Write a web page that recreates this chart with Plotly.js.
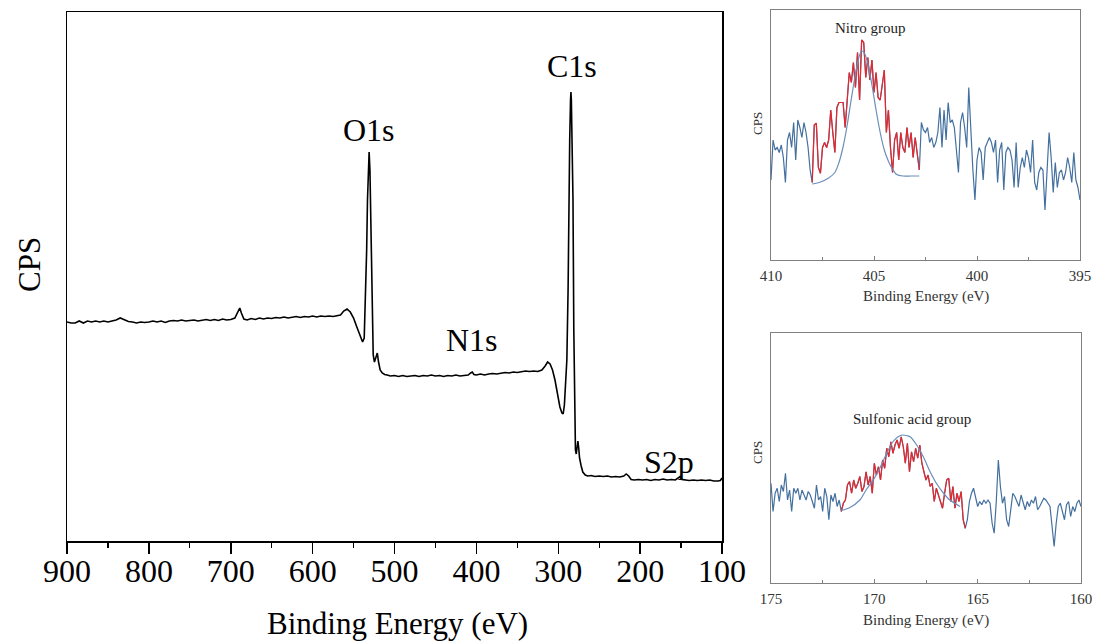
<!DOCTYPE html>
<html>
<head>
<meta charset="utf-8">
<script src="https://cdn.plot.ly/plotly-3.0.1.min.js"></script>
<style>
html,body{margin:0;padding:0;background:#fff;}
#chart{width:1095px;height:641px;}
</style>
</head>
<body>
<div id="chart"></div>
<script>
// ---------- Survey spectrum (binding energy, eV / intensity, kCPS) ----------
const surveyEnergy = [
 900,895,890,885,880,875,870,865,860,855,850,845,840,835,830,825,820,815,810,805,
 800,795,790,785,780,775,770,765,760,755,750,745,740,735,730,725,720,715,710,705,
 700,695,692,689,687,684,680,675,670,665,660,655,650,645,640,635,630,625,620,615,
 610,605,600,595,590,585,580,575,570,566,562,558,554,550,546,542,539,537,535.5,534,
 533,532,531,530,529,528,527,526,524.5,522.5,521,519.5,517.5,515,512,509,505,500,495,490,
 485,480,475,470,465,460,455,450,445,440,435,430,425,420,415,410,407,405,403,400,
 395,390,385,380,375,370,365,360,355,350,345,340,335,330,325,320,316,313,310,307,
 304,301,298,295.5,294,292.5,291,289.5,288,287,286,285,284.5,284,283,282,281,280,279,278,
 277,276,275,274,272,270,267,264,260,255,250,245,240,235,230,225,220,217,214,211,
 207,202,197,192,187,182,177,172,167,162,157,153,151,149,145,140,135,130,125,120,
 115,110,105,102,100
];
const surveyCounts = [
 22.1,22.0,22.0,22.2,22.0,22.2,22.1,22.2,22.1,22.2,22.1,22.2,22.3,22.5,22.35,22.15,22.1,22.0,22.1,22.05,
 22.1,22.2,22.1,22.2,22.05,22.2,22.25,22.2,22.3,22.2,22.25,22.3,22.2,22.3,22.35,22.25,22.35,22.25,22.4,22.3,
 22.35,22.5,23.0,23.5,23.0,22.4,22.3,22.45,22.35,22.5,22.4,22.5,22.45,22.55,22.5,22.6,22.5,22.6,22.65,22.55,
 22.65,22.6,22.7,22.6,22.7,22.65,22.7,22.65,22.7,22.8,23.2,23.4,23.1,22.5,21.6,20.7,20.1,20.5,24.3,29.3,
 34.3,37.8,39.1,37.3,32.3,26.8,22.3,18.8,18.1,18.7,19.0,18.1,17.3,17.0,16.85,16.8,16.7,16.75,16.65,16.75,
 16.65,16.7,16.75,16.65,16.75,16.7,16.8,16.7,16.75,16.65,16.75,16.7,16.8,16.7,16.75,16.8,17.0,17.1,16.85,16.8,
 16.9,16.8,16.9,16.95,16.9,17.0,17.05,17.0,17.1,17.05,17.15,17.2,17.15,17.2,17.15,17.3,17.7,18.1,17.9,17.3,
 16.3,15.0,13.6,13.0,12.9,13.8,15.8,18.3,25.3,35.0,40.3,44.3,45.1,44.3,40.3,34.3,21.3,12.3,9.3,8.9,
 9.7,10.2,9.5,8.5,7.7,7.1,6.8,6.7,6.75,6.65,6.7,6.65,6.7,6.6,6.65,6.6,6.7,6.9,6.7,6.35,
 6.3,6.35,6.3,6.35,6.25,6.35,6.3,6.4,6.3,6.35,6.3,6.5,6.65,6.35,6.3,6.25,6.3,6.25,6.3,6.25,
 6.3,6.2,6.2,6.25,6.5
];
const surveyTicks = [900,800,700,600,500,400,300,200,100];
const peakNames = ["O1s","C1s","N1s","S2p"];
const peakLabelX = [531,283.5,405,164.7];
const peakLabelY = [41.3,47.7,20.3,8.1];

// ---------- N1s high-resolution (410 -> 395 eV, step 0.1) ----------
const nitroStart = 410, nitroStep = 0.1;
const nitroCounts = [
 32,48,44,45,43,46,41,31,48,51,45,55,40,56,53,49,55,51,45,36,31,
 54,54.7,37,34.7,45,47,45,48,60,51,43,61,63,63,63,53,64,75,71,79,
 69,83,64,88,87,73,81,72,80,67,75,65,64,71,76,51,60,45,35,48,
 51,40,51,45,43,53,45,51,41,49,43,36,
 55,52,51,53,47,49,45,47,51,61,45,60,48,63,55,56,53,45,35,55,
 59,53,45,69,51,36,24,40,45,43,32,45,47,49,47,43,48,31,44,47,
 28,43,45,44,40,29,47,29,37,41,37,44,41,35,48,31,28,35,37,36,
 20,35,51,41,27,39,29,35,36,32,35,41,37,31,43,32,29,24
];
const nitroPeakRange = [408.0, 402.8];
const nitroFitEnergy = [408.0,407.6,407.2,406.9,406.7,406.5,406.3,406.1,405.9,405.75,405.6,405.45,405.3,405.1,404.9,404.7,404.5,404.3,404.1,403.9,403.6,403.2,402.8];
const nitroFitCounts = [30.4,31.2,32.8,35.0,39.0,45.3,54.0,64.5,74.5,80.5,83.7,82.5,78.5,70.0,60.0,51.0,44.0,39.5,36.3,34.2,33.6,33.6,33.6];
const nitroTicks = [410,405,400,395];

// ---------- S2p high-resolution (175 -> 160 eV, step 0.1) ----------
const sulfoStart = 175, sulfoStep = 0.1;
const sulfoCounts = [
 39.9,28.6,35.9,37.9,32.6,39.2,36.6,43.9,33.2,37.2,28.6,37.9,35.9,37.9,33.2,37.2,35.2,33.2,36.6,35.2,
 32.6,29.9,39.2,33.2,34.6,28.6,37.9,34.6,25.3,35.2,32.6,35.9,30.6,33.2,28.6,
 31.9,33.2,39.2,40.6,35.9,41.2,37.9,39.9,42.6,36.6,38.6,44.5,39.2,42.6,35.9,47.9,43.2,46.5,41.2,49.2,
 45.9,53.9,50.5,56.5,51.9,55.2,57.2,53.9,58.5,54.5,47.9,55.9,44.5,52.5,48.5,53.9,49.9,55.2,47.9,44.5,
 41.2,43.2,38.6,39.9,32.6,37.9,35.2,32.6,29.9,35.9,41.2,41.9,32.6,38.6,29.9,35.9,32.6,36.6,25.3,21.9,
 25.3,32.6,35.9,37.9,34.6,30.6,32.6,31.3,33.2,31.9,33.2,31.9,23.9,19.9,32.6,49.2,38.6,31.9,34.6,25.3,
 22.6,30.6,35.9,34.6,32.6,30.6,35.2,32.6,29.3,32.6,30.6,33.2,31.9,34.6,29.3,30.6,32.6,33.9,33.2,31.9,
 30.6,22.6,14.6,23.9,30.6,31.9,28.6,25.3,31.3,32.6,26.6,30.6,28.6,31.9,33.2,30.6
];
const sulfoPeakRange = [171.6, 165.6];
const sulfoFitEnergy = [171.6,171.2,170.7,170.4,170.05,169.7,169.4,169.1,168.85,168.63,168.4,168.27,167.95,167.63,167.3,167.0,166.65,166.35,165.85];
const sulfoFitCounts = [29.0,30.1,33.2,37.2,41.2,46.5,51.9,56.5,58.5,59.2,58.9,58.5,55.2,50.5,44.5,39.9,35.9,33.2,30.6];
const sulfoTicks = [175,170,165,160];

// energy grids for the high-resolution scans
const nitroEnergy = nitroCounts.map((_, i) => +(nitroStart - nitroStep * i).toFixed(1));
const sulfoEnergy = sulfoCounts.map((_, i) => +(sulfoStart - sulfoStep * i).toFixed(1));
function slice(xs, ys, range) {
  const hi = Math.max(range[0], range[1]) + 1e-6, lo = Math.min(range[0], range[1]) - 1e-6;
  const sx = [], sy = [];
  xs.forEach((x, i) => { if (x <= hi && x >= lo) { sx.push(x); sy.push(ys[i]); } });
  return [sx, sy];
}
const nitroRed = slice(nitroEnergy, nitroCounts, nitroPeakRange);
const sulfoRed = slice(sulfoEnergy, sulfoCounts, sulfoPeakRange);

const serif = "Liberation Serif";
const dataBlue = "#44709f";
const fitBlue = "#6b8fbb";
const red = "#e8262b";

const traces = [
  {x: surveyEnergy, y: surveyCounts, xaxis: "x", yaxis: "y", mode: "lines",
   line: {color: "#000", width: 1.6}, hoverinfo: "skip"},
  {x: nitroEnergy, y: nitroCounts, xaxis: "x2", yaxis: "y2", mode: "lines",
   line: {color: dataBlue, width: 1.2}},
  {x: nitroRed[0], y: nitroRed[1], xaxis: "x2", yaxis: "y2", mode: "lines",
   line: {color: red, width: 1.2}},
  {x: nitroFitEnergy, y: nitroFitCounts, xaxis: "x2", yaxis: "y2", mode: "lines",
   line: {color: fitBlue, width: 1.2, shape: "spline", smoothing: 0.8}},
  {x: sulfoEnergy, y: sulfoCounts, xaxis: "x3", yaxis: "y3", mode: "lines",
   line: {color: dataBlue, width: 1.2}},
  {x: sulfoRed[0], y: sulfoRed[1], xaxis: "x3", yaxis: "y3", mode: "lines",
   line: {color: red, width: 1.2}},
  {x: sulfoFitEnergy, y: sulfoFitCounts, xaxis: "x3", yaxis: "y3", mode: "lines",
   line: {color: fitBlue, width: 1.2, shape: "spline", smoothing: 0.8}}
];

const W = 1095, H = 641;
const px = v => v / W, py = v => 1 - v / H;

const insetX = (domX, range, ticks, anchor) => ({
  domain: domX, range: range, anchor: anchor,
  tickvals: ticks, ticktext: ticks.map(String),
  ticks: "inside", ticklen: 4, tickwidth: 1, tickcolor: "#808080",
  minor: {dtick: 2.5, tick0: 0, ticks: "inside", ticklen: 3, tickcolor: "#808080"},
  showline: true, mirror: true, linecolor: "#808080", linewidth: 1,
  showgrid: false, zeroline: false,
  tickfont: {family: serif, size: 15, color: "#333"}, ticklabelstandoff: 2
});
const insetY = (domY, anchor) => ({
  domain: domY, range: [0, 100], anchor: anchor,
  showticklabels: false, ticks: "", showline: true, mirror: true,
  linecolor: "#808080", linewidth: 1, showgrid: false, zeroline: false
});

const txt = (text, x, y, size, color, extra) => Object.assign({
  text: text, x: x, y: y, xref: "paper", yref: "paper", showarrow: false,
  xanchor: "center", yanchor: "middle",
  font: {family: serif, size: size, color: color}
}, extra || {});

const annotations = [];
peakNames.forEach((n, i) => annotations.push({
  text: n, x: peakLabelX[i], y: peakLabelY[i], xref: "x", yref: "y",
  xanchor: "center", yanchor: "middle",
  showarrow: false, font: {family: serif, size: 32, color: "#000"}
}));
annotations.push(
  txt("Binding Energy (eV)", px(397), py(623), 31, "#000"),
  txt("CPS", px(30), py(265), 31, "#000", {textangle: -90}),
  txt("Nitro group", 0, 0, 15, "#222", {xref: "x2", yref: "y2", x: 405.2, y: 92.7}),
  txt("Binding Energy (eV)", px(926), py(296), 15, "#333"),
  txt("CPS", px(757), py(124), 13, "#333", {textangle: -90}),
  txt("Sulfonic acid group", 0, 0, 15, "#222", {xref: "x3", yref: "y3", x: 168.2, y: 65.8}),
  txt("Binding Energy (eV)", px(926), py(620), 15, "#333"),
  txt("CPS", px(757), py(453), 13, "#333", {textangle: -90})
);

const layout = {
  width: W, height: H,
  margin: {l: 0, r: 0, t: 0, b: 0, pad: 0},
  paper_bgcolor: "#fff", plot_bgcolor: "#fff",
  showlegend: false,
  font: {family: serif},
  xaxis: {
    domain: [px(67), px(722)], range: [900, 100], anchor: "y",
    tickvals: surveyTicks, ticktext: surveyTicks.map(String),
    ticks: "outside", ticklen: 11, tickwidth: 1.5, tickcolor: "#000",
    minor: {dtick: 50, tick0: 0, ticks: "outside", ticklen: 5, tickwidth: 1.3, tickcolor: "#000"},
    showline: true, mirror: true, linecolor: "#000", linewidth: 1.5,
    showgrid: false, zeroline: false,
    tickfont: {family: serif, size: 32, color: "#000"}, ticklabelstandoff: -10
  },
  yaxis: {
    domain: [py(541), py(12)], range: [0.2, 53.1], anchor: "x",
    showticklabels: false, ticks: "", showline: true, mirror: true,
    linecolor: "#000", linewidth: 1.5, showgrid: false, zeroline: false
  },
  xaxis2: insetX([px(771), px(1080)], [410, 395], nitroTicks, "y2"),
  yaxis2: insetY([py(260), py(10)], "x2"),
  xaxis3: insetX([px(771), px(1081)], [175, 160], sulfoTicks, "y3"),
  yaxis3: insetY([py(583), py(333)], "x3"),
  annotations: annotations
};

Plotly.newPlot("chart", traces, layout, {staticPlot: true, displayModeBar: false});
</script>
</body>
</html>
